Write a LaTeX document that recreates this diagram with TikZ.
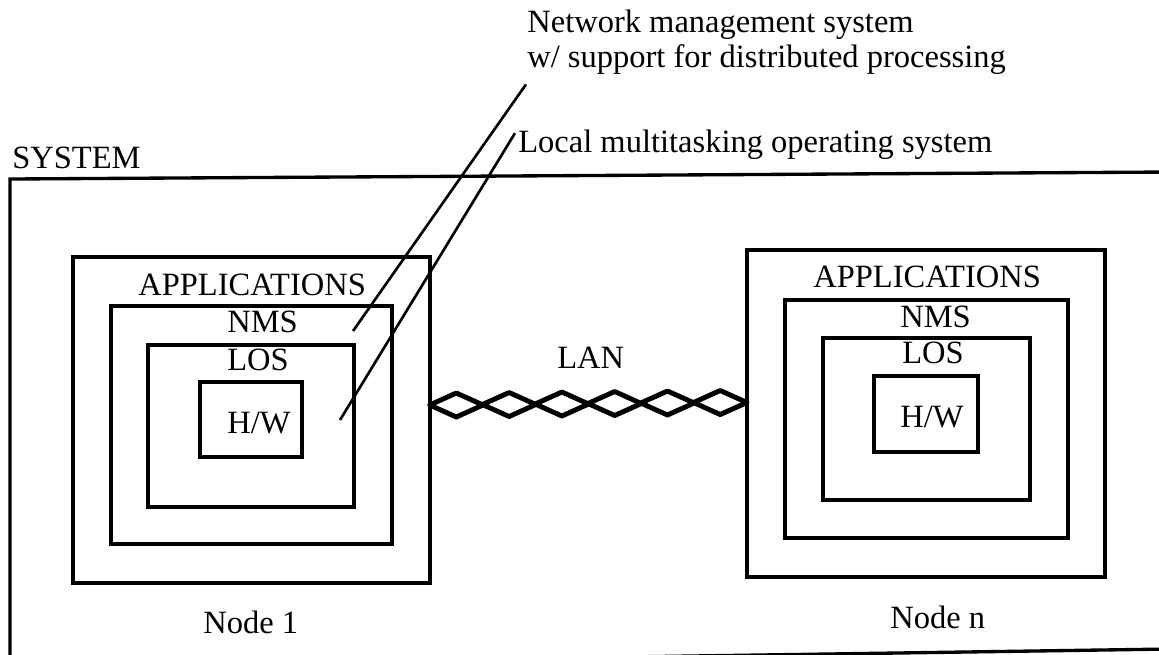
\documentclass[tikz,border=0pt]{standalone}
\usepackage{fontspec}
\setmainfont{Liberation Serif}
\usetikzlibrary{calc,fit}
\begin{document}
\begin{tikzpicture}[x=0.02cm,y=-0.02cm,
  box/.style={draw,line width=1.9pt,inner sep=0pt,rectangle},
  lbl/.style={inner sep=0pt,anchor=base west,font=\fontsize{18.5}{22}\selectfont},
  leader/.style={line width=1.5pt},
  wire/.style={line width=2.8pt,line join=round}]
\useasboundingbox (0,0) rectangle (1159,654);
\clip (0,0) rectangle (1159,654);

% system frame (open to the right)
\draw[line width=1.9pt] (1170,172) -- (10,179) -- (10,666) -- (1170,649);
\node[lbl] (tSys) at (12,168) {SYSTEM};

% node 1: nested layers
\node[box,fit={(73,257)(430,583)}] (app1) {};
\node[box,fit={(111,306)(392,544)}] (nms1) {};
\node[box,fit={(148,345)(354,507)}] (los1) {};
\node[box,fit={(200,382)(302,457)}] (hw1) {};
\node[lbl] (tApp1) at (138,295) {APPLICATIONS};
\node[lbl] (tNms1) at (227,332) {NMS};
\node[lbl] (tLos1) at (227,370) {LOS};
\node[lbl] (tHw1) at (227,433) {H/W};
\node[lbl] (tNode1) at (203,633) {Node 1};

% node n: nested layers
\node[box,fit={(747,250)(1105,577)}] (appn) {};
\node[box,fit={(785,300)(1068,538)}] (nmsn) {};
\node[box,fit={(823,338)(1030,500)}] (losn) {};
\node[box,fit={(874,376)(978,452)}] (hwn) {};
\node[lbl] (tAppn) at (813,287) {APPLICATIONS};
\node[lbl] (tNmsn) at (900,327) {NMS};
\node[lbl] (tLosn) at (902,363) {LOS};
\node[lbl] (tHwn) at (900,427) {H/W};
\node[lbl] (tNoden) at (890,628) {Node n};

% LAN: twisted pair between the nodes
\node[lbl] (tLan) at (557,368) {LAN};
\path (app1.east) ++(-2,-15) coordinate (lanL);
\path (appn.west) ++(1,-11.5) coordinate (lanR);
\foreach \k in {0,...,5}{
  \draw[wire] ($(lanL)!\k/6!(lanR)$) -- ++(26.67,-12) -- ++(26.67,12)
              -- ++(-26.67,12) -- cycle;
}

% callouts
\node[lbl] (nmsA) at (527,32) {Network management system};
\node[lbl] (nmsB) at (527,67) {w/ support for distributed processing};
\node[lbl] (losLab) at (518,152) {Local multitasking operating system};
\coordinate (nmsTip) at (353,331);
\coordinate (losTip) at (340,420);
\draw[leader] ($(nmsB.south west)+(-1,10)$) -- (nmsTip);
\draw[leader] ($(losLab.north west)+(-3,4)$) -- (losTip);
\end{tikzpicture}
\end{document}
